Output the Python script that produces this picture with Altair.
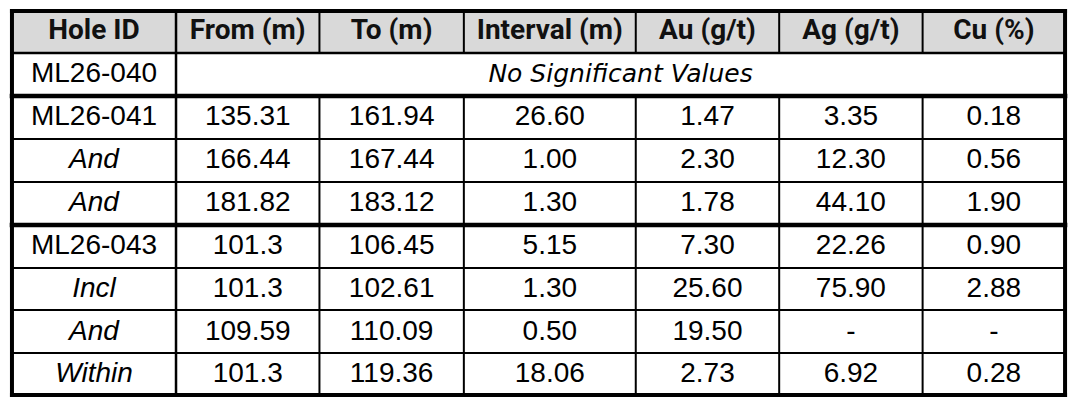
import altair as alt
import pandas as pd

# ---- table content ----
headers = ["Hole ID", "From (m)", "To (m)", "Interval (m)", "Au (g/t)", "Ag (g/t)", "Cu (%)"]
hole_ids = ["ML26-040", "ML26-041", "And", "And", "ML26-043", "Incl", "And", "Within"]
italic_ids = [False, False, True, True, False, True, True, True]
from_m = ["", "135.31", "166.44", "181.82", "101.3", "101.3", "109.59", "101.3"]
to_m = ["", "161.94", "167.44", "183.12", "106.45", "102.61", "110.09", "119.36"]
interval_m = ["", "26.60", "1.00", "1.30", "5.15", "1.30", "0.50", "18.06"]
au_gt = ["", "1.47", "2.30", "1.78", "7.30", "25.60", "19.50", "2.73"]
ag_gt = ["", "3.35", "12.30", "44.10", "22.26", "75.90", "-", "6.92"]
cu_pct = ["", "0.18", "0.56", "1.90", "0.90", "2.88", "-", "0.28"]
merged_note = "No Significant Values"

# ---- grid geometry (layout, in reference pixels) ----
col_edges = [2, 169, 315, 462, 637, 783, 929, 1074]
row_edges = [2, 46, 91, 136, 181, 226, 271, 315, 360, 404]
thick_rows = {2, 5}          # horizontal lines (by index) drawn heavy
TOTAL_W, TOTAL_H = 1077, 406

cx = [(col_edges[i] + col_edges[i + 1]) / 2 for i in range(len(col_edges) - 1)]
cy = [(row_edges[i] + row_edges[i + 1]) / 2 for i in range(len(row_edges) - 1)]

xs = alt.Scale(domain=[0, TOTAL_W], nice=False, zero=False)
ys = alt.Scale(domain=[0, TOTAL_H], nice=False, zero=False, reverse=True)

BODY_FONT = "Liberation Sans, Arial, sans-serif"

# header background
hdr_bg = pd.DataFrame([{"x": col_edges[0], "x2": col_edges[-1], "y": row_edges[0], "y2": row_edges[1]}])
bg = alt.Chart(hdr_bg).mark_rect(color="#D9D9D9").encode(
    x=alt.X("x:Q", scale=xs, axis=None), x2="x2:Q",
    y=alt.Y("y:Q", scale=ys, axis=None), y2="y2:Q")

# header text
hdr_df = pd.DataFrame({"x": cx, "y": [cy[0] - 1] * len(headers), "t": headers})
hdr = alt.Chart(hdr_df).mark_text(font="Roboto, sans-serif", fontWeight="bold", fontSize=28,
                                  color="#111111", baseline="middle", align="center").encode(
    x=alt.X("x:Q", scale=xs, axis=None), y=alt.Y("y:Q", scale=ys, axis=None), text="t:N")

# body text
cols = [from_m, to_m, interval_m, au_gt, ag_gt, cu_pct]
plain_rows, italic_rows = [], []
for r, hid in enumerate(hole_ids):
    rec = {"x": cx[0], "y": cy[r + 1], "t": hid}
    (italic_rows if italic_ids[r] else plain_rows).append(rec)
    for c, vals in enumerate(cols):
        if vals[r] != "":
            plain_rows.append({"x": cx[c + 1], "y": cy[r + 1], "t": vals[r]})

body = alt.Chart(pd.DataFrame(plain_rows)).mark_text(
    font=BODY_FONT, fontSize=28, color="#000000", baseline="middle", align="center").encode(
    x=alt.X("x:Q", scale=xs, axis=None), y=alt.Y("y:Q", scale=ys, axis=None), text="t:N")

body_it = alt.Chart(pd.DataFrame(italic_rows)).mark_text(
    font=BODY_FONT, fontStyle="italic", fontSize=28, color="#000000",
    baseline="middle", align="center").encode(
    x=alt.X("x:Q", scale=xs, axis=None), y=alt.Y("y:Q", scale=ys, axis=None), text="t:N")

note_df = pd.DataFrame([{"x": (col_edges[1] + col_edges[-1]) / 2, "y": cy[1], "t": merged_note}])
note = alt.Chart(note_df).mark_text(
    font="DejaVu Sans, sans-serif", fontStyle="italic", fontSize=25, color="#000000",
    baseline="middle", align="center").encode(
    x=alt.X("x:Q", scale=xs, axis=None), y=alt.Y("y:Q", scale=ys, axis=None), text="t:N")

# grid lines
lines = []
for i in range(1, len(row_edges) - 1):
    w = 4.5 if i in thick_rows else (2.6 if i == 1 else 2)
    lines.append({"x": col_edges[0], "x2": col_edges[-1], "y": row_edges[i], "y2": row_edges[i], "w": w})
for j in range(1, len(col_edges) - 1):
    if j == 1:
        lines.append({"x": col_edges[j], "x2": col_edges[j], "y": row_edges[0], "y2": row_edges[-1], "w": 2.5})
    else:
        lines.append({"x": col_edges[j], "x2": col_edges[j], "y": row_edges[0], "y2": row_edges[1], "w": 2})
        lines.append({"x": col_edges[j], "x2": col_edges[j], "y": row_edges[2], "y2": row_edges[-1], "w": 2})
L, R, T, B = col_edges[0], col_edges[-1], row_edges[0], row_edges[-1]
for seg in [(L, R, T, T), (L, R, B, B), (L, L, T, B), (R, R, T, B)]:
    lines.append({"x": seg[0], "x2": seg[1], "y": seg[2], "y2": seg[3], "w": 4})

grid = alt.Chart(pd.DataFrame(lines)).mark_rule(color="#000000", strokeCap="square").encode(
    x=alt.X("x:Q", scale=xs, axis=None), x2="x2:Q",
    y=alt.Y("y:Q", scale=ys, axis=None), y2="y2:Q",
    strokeWidth=alt.StrokeWidth("w:Q", scale=None, legend=None))

chart = alt.layer(bg, grid, hdr, body, body_it, note).properties(
    width=1061, height=390,
    autosize=alt.AutoSizeParams(type="fit", contains="padding"),
    padding=0,
    background="#FFFFFF",
).configure_view(stroke=None)

chart.save("out.html", embed_options={"renderer": "svg", "actions": False})
